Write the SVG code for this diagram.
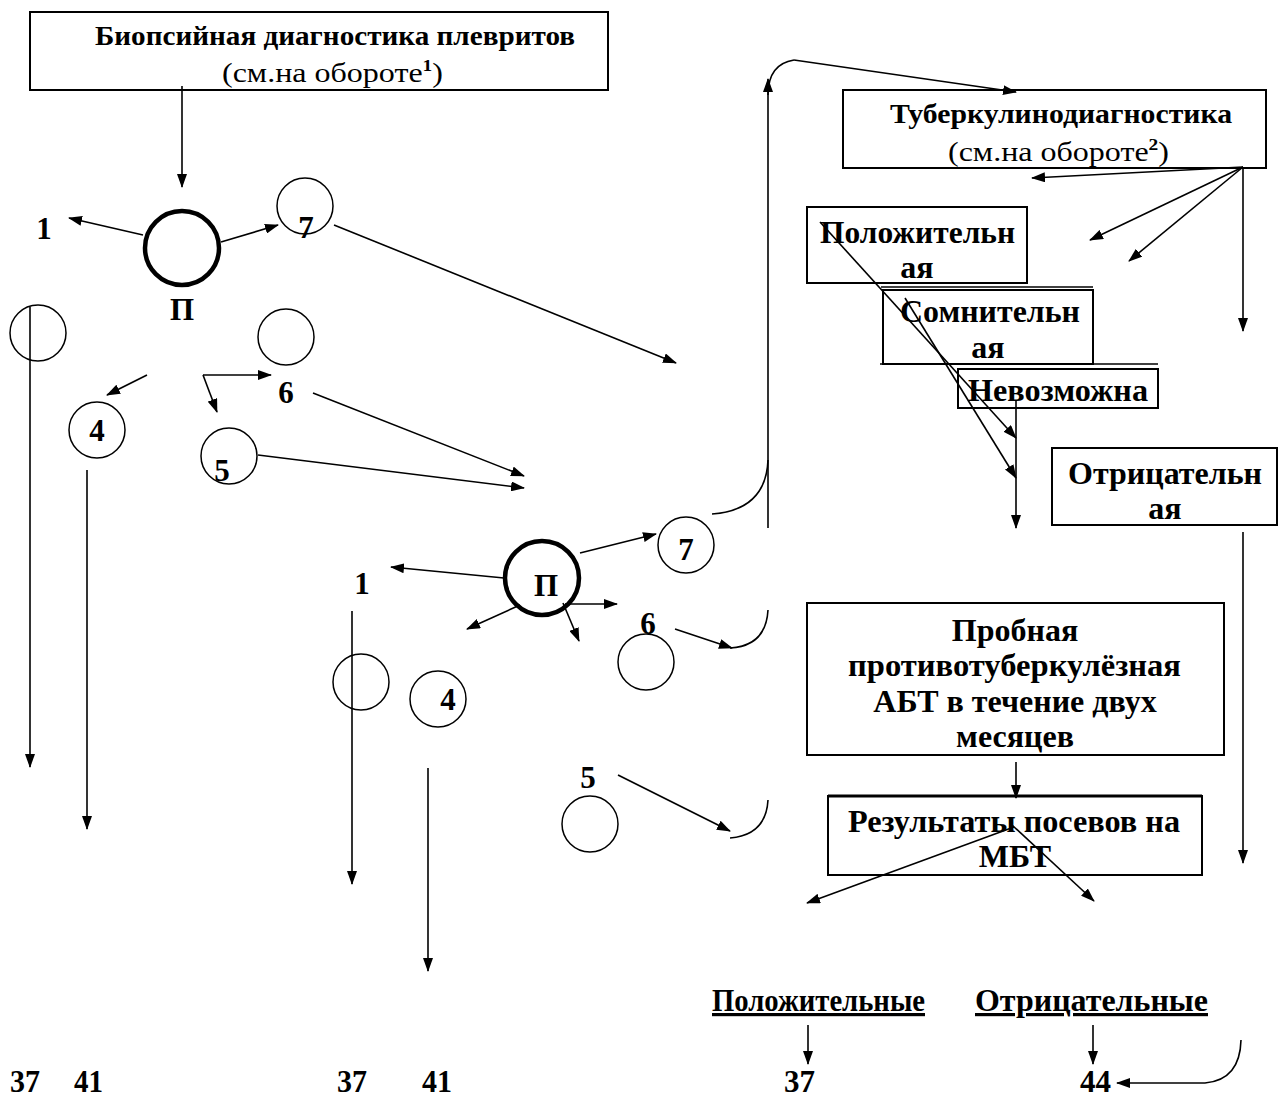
<svg xmlns="http://www.w3.org/2000/svg" width="1279" height="1100" viewBox="0 0 1279 1100">
<style>
.t{font-family:"Liberation Serif","Times New Roman",serif;font-weight:bold;font-size:32px;fill:#000}
.h{font-family:"Liberation Serif","Times New Roman",serif;font-weight:bold;font-size:27px;fill:#000}
.r{font-family:"Liberation Serif","Times New Roman",serif;font-size:28px;fill:#000}
.n{font-family:"Liberation Serif","Times New Roman",serif;font-weight:bold;font-size:31px;fill:#000}
.d{font-family:"Liberation Serif","Times New Roman",serif;font-weight:bold;font-size:31px;fill:#000}
.box{fill:#fff;stroke:#000;stroke-width:2}
.c{fill:none;stroke:#000;stroke-width:1.5}
.p{fill:none;stroke:#000;stroke-width:4.5}
.l{fill:none;stroke:#000;stroke-width:1.6}
.a{fill:none;stroke:#000;stroke-width:1.6;marker-end:url(#ah)}
</style>
<defs>
<marker id="ah" markerWidth="14" markerHeight="10" refX="13" refY="5" orient="auto" markerUnits="userSpaceOnUse">
<path d="M0,0 L14,5 L0,10 Z" fill="#000"/>
</marker>
</defs>
<rect width="1279" height="1100" fill="#fff"/>

<g id="box-biopsy">
<rect class="box" x="30" y="12" width="578" height="78"/>
<text class="h" x="95" y="45" textLength="480" lengthAdjust="spacingAndGlyphs">Биопсийная диагностика плевритов</text>
<text class="r" x="222" y="82" textLength="221" lengthAdjust="spacingAndGlyphs">(см.на обороте<tspan font-weight="bold" font-size="17" dy="-11">1</tspan><tspan dy="11">)</tspan></text>
</g>

<g id="box-tuberculin">
<rect class="box" x="843" y="90" width="423" height="78"/>
<text class="h" x="890" y="123" textLength="342" lengthAdjust="spacingAndGlyphs">Туберкулинодиагностика</text>
<text class="r" x="948" y="161" textLength="221" lengthAdjust="spacingAndGlyphs">(см.на обороте<tspan font-weight="bold" font-size="17" dy="-11">2</tspan><tspan dy="11">)</tspan></text>
</g>

<g id="box-positive">
<rect class="box" x="807" y="207" width="220" height="76"/>
<text class="t" x="820" y="243" textLength="195" lengthAdjust="spacingAndGlyphs">Положительн</text>
<text class="t" x="917" y="278" text-anchor="middle">ая</text>
</g>

<g id="box-doubtful">
<line class="l" x1="881" y1="287" x2="1093" y2="287"/>
<rect class="box" x="883" y="290" width="210" height="74"/>
<text class="t" x="900" y="322" textLength="180" lengthAdjust="spacingAndGlyphs">Сомнительн</text>
<text class="t" x="988" y="358" text-anchor="middle">ая</text>
</g>

<g id="box-impossible">
<line class="l" x1="880" y1="364" x2="1158" y2="364"/>
<rect class="box" x="958" y="369" width="200" height="39"/>
<text class="t" x="968" y="401" textLength="180" lengthAdjust="spacingAndGlyphs">Невозможна</text>
</g>

<g id="box-negative">
<rect class="box" x="1052" y="448" width="225" height="77"/>
<text class="t" x="1068" y="484" textLength="194" lengthAdjust="spacingAndGlyphs">Отрицательн</text>
<text class="t" x="1165" y="519" text-anchor="middle">ая</text>
</g>

<g id="box-trial">
<rect class="box" x="807" y="603" width="417" height="152"/>
<text class="t" x="1015" y="641" text-anchor="middle">Пробная</text>
<text class="t" x="848" y="676" textLength="333" lengthAdjust="spacingAndGlyphs">противотуберкулёзная</text>
<text class="t" x="1015" y="712" text-anchor="middle">АБТ в течение двух</text>
<text class="t" x="1015" y="747" text-anchor="middle">месяцев</text>
</g>

<g id="box-cultures">
<rect class="box" x="828" y="796" width="374" height="79"/>
<line x1="828" y1="796" x2="1202" y2="796" stroke="#000" stroke-width="3"/>
<text class="t" x="848" y="832" textLength="332" lengthAdjust="spacingAndGlyphs">Результаты посевов на</text>
<text class="t" x="1015" y="867" text-anchor="middle">МБТ</text>
</g>

<g id="node-p1">
<circle class="p" cx="182" cy="248" r="37"/>
<text class="n" x="182" y="320" text-anchor="middle">П</text>
</g>
<g id="node-1a"><text class="n" x="44" y="239" text-anchor="middle">1</text></g>
<g id="node-7a">
<circle class="c" cx="305" cy="206" r="28"/>
<text class="n" x="306" y="238" text-anchor="middle">7</text>
</g>
<g id="node-ca"><circle class="c" cx="38" cy="333" r="28"/></g>
<g id="node-cb"><circle class="c" cx="286" cy="337" r="28"/></g>
<g id="node-6a"><text class="n" x="286" y="403" text-anchor="middle">6</text></g>
<g id="node-4a">
<circle class="c" cx="97" cy="430" r="28"/>
<text class="n" x="97" y="441" text-anchor="middle">4</text>
</g>
<g id="node-5a">
<circle class="c" cx="229" cy="456" r="28"/>
<text class="n" x="222" y="481" text-anchor="middle">5</text>
</g>

<g id="node-p2">
<circle class="p" cx="542" cy="578" r="37"/>
<text class="n" x="546" y="596" text-anchor="middle">П</text>
</g>
<g id="node-1b"><text class="n" x="362" y="594" text-anchor="middle">1</text></g>
<g id="node-7b">
<circle class="c" cx="686" cy="545" r="28"/>
<text class="n" x="686" y="560" text-anchor="middle">7</text>
</g>
<g id="node-6b">
<text class="n" x="648" y="634" text-anchor="middle">6</text>
<circle class="c" cx="646" cy="662" r="28"/>
</g>
<g id="node-cc"><circle class="c" cx="361" cy="682" r="28"/></g>
<g id="node-4b">
<circle class="c" cx="438" cy="699" r="28"/>
<text class="n" x="448" y="710" text-anchor="middle">4</text>
</g>
<g id="node-5b">
<text class="n" x="588" y="788" text-anchor="middle">5</text>
<circle class="c" cx="590" cy="824" r="28"/>
</g>

<g id="labels-bottom">
<text class="t" x="712" y="1011" textLength="213" lengthAdjust="spacingAndGlyphs" text-decoration="underline">Положительные</text>
<text class="t" x="975" y="1011" textLength="233" lengthAdjust="spacingAndGlyphs" text-decoration="underline">Отрицательные</text>
<text class="d" x="10" y="1092" textLength="30" lengthAdjust="spacingAndGlyphs">37</text>
<text class="d" x="74" y="1092" textLength="29" lengthAdjust="spacingAndGlyphs">41</text>
<text class="d" x="337" y="1092" textLength="30" lengthAdjust="spacingAndGlyphs">37</text>
<text class="d" x="422" y="1092" textLength="30" lengthAdjust="spacingAndGlyphs">41</text>
<text class="d" x="784" y="1092" textLength="31" lengthAdjust="spacingAndGlyphs">37</text>
<text class="d" x="1080" y="1092" textLength="31" lengthAdjust="spacingAndGlyphs">44</text>
</g>

<g id="connectors">
<line class="a" x1="182" y1="86" x2="182" y2="187"/>
<line class="a" x1="143" y1="235" x2="69" y2="218"/>
<line class="a" x1="221" y1="242" x2="278" y2="225"/>
<line class="a" x1="334" y1="225" x2="676" y2="363"/>
<line class="a" x1="30" y1="307" x2="30" y2="767"/>
<line class="a" x1="147" y1="375" x2="107" y2="395"/>
<path class="a" d="M203,375 L271,375"/>
<path class="a" d="M203,375 L217,412"/>
<line class="a" x1="313" y1="393" x2="524" y2="476"/>
<line class="a" x1="258" y1="455" x2="524" y2="488"/>
<line class="a" x1="87" y1="470" x2="87" y2="829"/>

<line class="a" x1="504" y1="578" x2="391" y2="567"/>
<line class="a" x1="580" y1="553" x2="656" y2="534"/>
<line class="a" x1="520" y1="605" x2="467" y2="629"/>
<line class="a" x1="563" y1="603" x2="579" y2="641"/>
<line class="a" x1="565" y1="604" x2="617" y2="604"/>
<line class="a" x1="352" y1="611" x2="352" y2="884"/>
<line class="a" x1="428" y1="768" x2="428" y2="971"/>
<line class="a" x1="675" y1="629" x2="732" y2="648"/>
<path class="l" d="M730,648 Q766,646 768,610"/>
<line class="a" x1="618" y1="775" x2="730" y2="831"/>
<path class="l" d="M730,838 Q766,835 768,800"/>

<path class="l" d="M712,514 Q766,510 768,460"/>
<line class="a" x1="768" y1="528" x2="768" y2="79"/>
<path class="l" d="M768,95 Q768,64 794,60"/>
<line class="a" x1="794" y1="60" x2="1016" y2="92"/>

<line class="a" x1="1243" y1="167" x2="1032" y2="178"/>
<line class="a" x1="1243" y1="167" x2="1090" y2="240"/>
<line class="a" x1="1243" y1="167" x2="1129" y2="261"/>
<line class="a" x1="1243" y1="167" x2="1243" y2="331"/>

<line class="a" x1="820" y1="222" x2="1016" y2="438"/>
<line class="a" x1="905" y1="298" x2="1016" y2="478"/>
<line class="a" x1="1016" y1="400" x2="1016" y2="528"/>
<line class="a" x1="1243" y1="532" x2="1243" y2="863"/>

<line class="a" x1="1016" y1="762" x2="1016" y2="798"/>
<line class="a" x1="1014" y1="827" x2="807" y2="903"/>
<line class="a" x1="1012" y1="825" x2="1094" y2="901"/>

<line class="a" x1="808" y1="1025" x2="808" y2="1064"/>
<line class="a" x1="1093" y1="1025" x2="1093" y2="1064"/>
<path class="l" d="M1205,1083 Q1240,1080 1241,1040"/>
<line class="a" x1="1205" y1="1083" x2="1117" y2="1083"/>
</g>
</svg>
